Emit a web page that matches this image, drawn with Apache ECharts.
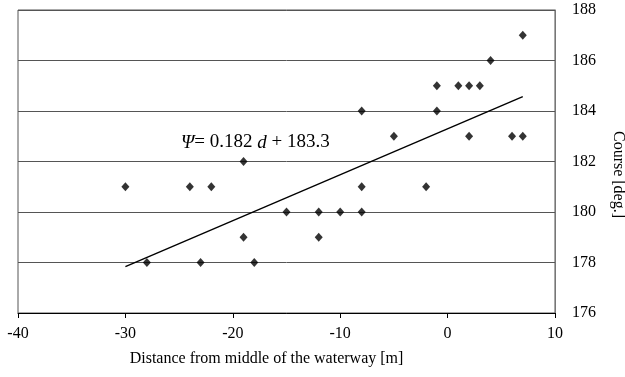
<!DOCTYPE html>
<html>
<head>
<meta charset="utf-8">
<script src="https://cdn.jsdelivr.net/npm/echarts@6/dist/echarts.min.js"></script>
<style>
  html, body { margin: 0; padding: 0; background: #fff; }
  #chart { width: 625px; height: 377px; }
</style>
</head>
<body>
<div id="chart"></div>
<script>
// measured points: distance from middle [m], course [deg.]
const distance = [-30, -28, -24, -23, -22, -19, -19, -18, -15, -12, -12, -10, -8, -8, -8,
  -5, -2, -1, -1, 1, 2, 2, 3, 4, 6, 7, 7];
const course = [181, 178, 181, 178, 181, 182, 179, 178, 180, 180, 179, 180, 180, 181, 184,
  183, 181, 185, 184, 185, 185, 183, 185, 186, 183, 183, 187];
// regression line end points
const trendX = [-30, 7];
const trendY = [177.84, 184.57];
const xTicks = [-40, 10, 10]; // min, max, interval
const yTicks = [176, 188, 2];

const font = '"Liberation Serif", "DejaVu Serif", serif';
const chart = echarts.init(document.getElementById('chart'));

chart.setOption({
	animation: false,
	textStyle: { fontFamily: font, color: '#000' },
	grid: { left: 18, right: 70, top: 10, bottom: 64, containLabel: false, outerBoundsMode: 'none' },
	xAxis: {
		type: 'value',
		min: xTicks[0],
		max: xTicks[1],
		interval: xTicks[2],
		name: 'Distance from middle of the waterway [m]',
		nameLocation: 'middle',
		nameGap: 38,
		nameTextStyle: { fontFamily: font, fontSize: 16, color: '#000', padding: [0, 40, 0, 0] },
		axisLine: { onZero: false, lineStyle: { color: '#000', width: 1 } },
		axisTick: { show: true, length: 5, lineStyle: { color: '#000' } },
		axisLabel: { fontFamily: font, fontSize: 16, color: '#000', margin: 13 },
		splitLine: { show: false }
	},
	yAxis: {
		type: 'value',
		position: 'right',
		min: yTicks[0],
		max: yTicks[1],
		interval: yTicks[2],
		name: 'Course [deg.]',
		nameLocation: 'middle',
		nameRotate: -90,
		nameGap: 55,
		nameTextStyle: { fontFamily: font, fontSize: 16, color: '#000', padding: [0, 0, 0, 26] },
		axisLine: { show: true, onZero: false, lineStyle: { color: '#777', width: 1 } },
		axisTick: { show: false },
		axisLabel: { fontFamily: font, fontSize: 16, color: '#000', margin: 17 },
		splitLine: { show: true, lineStyle: { color: '#555', width: 1 } }
	},
	graphic: [
		{
			type: 'rect',
			shape: { x: 18, y: 10, width: 537, height: 303 },
			style: { fill: 'none', stroke: '#555', lineWidth: 1 },
			silent: true,
			z: -1
		},
		{
			type: 'text',
			left: 181,
			top: 133,
			style: {
				text: '{i|Ψ}= 0.182 {i|d} + 183.3',
				font: '19px ' + font,
				fill: '#000',
				rich: {
					i: { fontStyle: 'italic', fontFamily: font, fontSize: 19, fill: '#000' }
				}
			}
		}
	],
	series: [
		{
			type: 'line',
			data: trendX.map((x, i) => [x, trendY[i]]),
			showSymbol: false,
			lineStyle: { color: '#000', width: 1.4 },
			z: 2
		},
		{
			type: 'scatter',
			data: distance.map((x, i) => [x, course[i]]),
			symbol: 'diamond',
			symbolSize: [8, 9],
			itemStyle: { color: '#000' },
			z: 3
		}
	]
});
</script>
</body>
</html>
